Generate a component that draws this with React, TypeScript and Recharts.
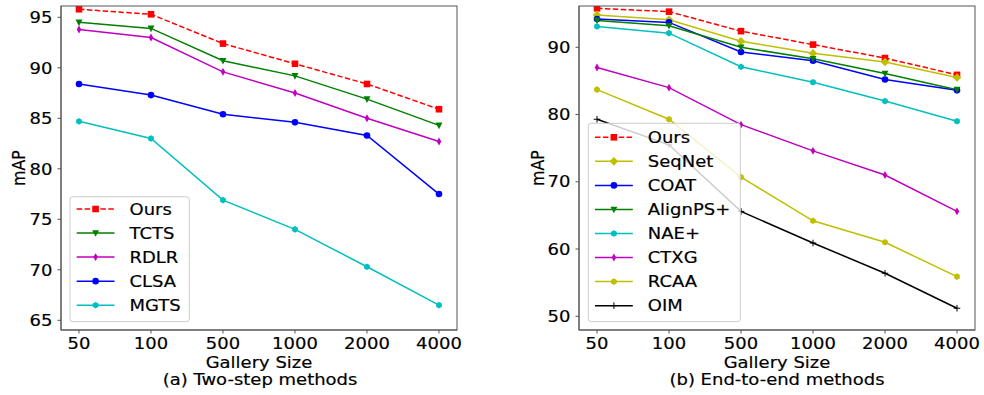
import React from 'react';
import { LineChart, Line, XAxis, YAxis } from 'recharts';

// ---------- data ----------
const gallerySizes = ['50', '100', '500', '1000', '2000', '4000'];

// (a) Two-step methods
const oursA = [95.8, 95.3, 92.4, 90.4, 88.4, 85.9];
const tctsA = [94.5, 93.9, 90.7, 89.2, 86.9, 84.3];
const rdlrA = [93.8, 93.0, 89.6, 87.5, 85.0, 82.7];
const clsaA = [88.4, 87.3, 85.4, 84.6, 83.3, 77.5];
const mgtsA = [84.7, 83.0, 76.9, 74.0, 70.3, 66.5];

// (b) End-to-end methods
const oursB = [95.8, 95.3, 92.4, 90.4, 88.4, 85.9];
const seqnetB = [94.8, 94.1, 90.9, 89.1, 87.8, 85.5];
const coatB = [94.2, 93.7, 89.3, 88.0, 85.2, 83.6];
const alignpsB = [94.0, 93.2, 90.0, 88.3, 86.1, 83.7];
const naeB = [93.1, 92.1, 87.1, 84.8, 82.0, 79.0];
const ctxgB = [87.0, 84.0, 78.5, 74.6, 71.0, 65.6];
const rcaaB = [83.7, 79.3, 70.7, 64.2, 61.0, 55.9];
const oimB = [79.3, 75.5, 65.6, 60.9, 56.4, 51.2];

const yTicksA = [65, 70, 75, 80, 85, 90, 95];
const yTicksB = [50, 60, 70, 80, 90];
const yDomainA: [number, number] = [64.04, 96.12];
const yDomainB: [number, number] = [47.96, 96.14];

// ---------- styles / layout ----------
const FONT = '"DejaVu Sans", "Liberation Sans", sans-serif';
const VS = 0.88; // vertical squeeze of text in the reference
const AXIS = '#555';
const RED = '#ff0000';
const GREEN = '#008000';
const MAGENTA = '#bf00bf';
const BLUE = '#0000ff';
const CYAN = '#00bfbf';
const YELLOW = '#bfbf00';
const BLACK = '#000000';

const H = 395;
const MARGIN_TOP = 6;
const X_AXIS_H = 65;
const PANEL_A = { left: 0, width: 490, yAxisWidth: 61, rightMargin: 33 };
const PANEL_B = { left: 490, width: 494, yAxisWidth: 89, rightMargin: 9 };

type Series = { key: string; name: string; values: number[]; color: string; shape: string; dash?: boolean };

const seriesA: Series[] = [
  { key: 'ours', name: 'Ours', values: oursA, color: RED, shape: 'square', dash: true },
  { key: 'tcts', name: 'TCTS', values: tctsA, color: GREEN, shape: 'tri' },
  { key: 'rdlr', name: 'RDLR', values: rdlrA, color: MAGENTA, shape: 'thin' },
  { key: 'clsa', name: 'CLSA', values: clsaA, color: BLUE, shape: 'circle' },
  { key: 'mgts', name: 'MGTS', values: mgtsA, color: CYAN, shape: 'hex' },
];

const seriesB: Series[] = [
  { key: 'ours', name: 'Ours', values: oursB, color: RED, shape: 'square', dash: true },
  { key: 'seqnet', name: 'SeqNet', values: seqnetB, color: YELLOW, shape: 'diamond' },
  { key: 'coat', name: 'COAT', values: coatB, color: BLUE, shape: 'circle' },
  { key: 'alignps', name: 'AlignPS+', values: alignpsB, color: GREEN, shape: 'tri' },
  { key: 'nae', name: 'NAE+', values: naeB, color: CYAN, shape: 'hex' },
  { key: 'ctxg', name: 'CTXG', values: ctxgB, color: MAGENTA, shape: 'thin' },
  { key: 'rcaa', name: 'RCAA', values: rcaaB, color: YELLOW, shape: 'hex' },
  { key: 'oim', name: 'OIM', values: oimB, color: BLACK, shape: 'plus' },
];

const buildRows = (series: Series[]) =>
  gallerySizes.map((size, i) => {
    const row: Record<string, any> = { size };
    series.forEach((s) => (row[s.key] = s.values[i]));
    return row;
  });

const dataA = buildRows(seriesA);
const dataB = buildRows(seriesB);

// ---------- helpers ----------
function SText({ x, y, anchor = 'middle', rotate = false, children }: any) {
  const t = rotate
    ? `translate(${x},${y}) rotate(-90) scale(${VS},1)`
    : `translate(${x},${y}) scale(1,${VS})`;
  return (
    <text
      transform={t}
      x={0}
      y={0}
      textAnchor={anchor}
      fontFamily={FONT}
      fontSize={18}
      fill="#000"
      stroke="#000"
      strokeWidth={0.2}
    >
      {children}
    </text>
  );
}

function Marker({ shape, color, cx, cy }: any) {
  const s = 6.6;
  const h = s / 2;
  if (cx == null || cy == null) return null;
  switch (shape) {
    case 'square':
      return <rect x={cx - h} y={cy - h} width={s} height={s} fill={color} />;
    case 'tri':
      return (
        <polygon
          points={`${cx - h * 1.05},${cy - h * 0.85} ${cx + h * 1.05},${cy - h * 0.85} ${cx},${cy + h * 1.15}`}
          fill={color}
        />
      );
    case 'thin':
      return (
        <polygon
          points={`${cx},${cy - h * 1.2} ${cx + h * 0.7},${cy} ${cx},${cy + h * 1.2} ${cx - h * 0.7},${cy}`}
          fill={color}
        />
      );
    case 'diamond':
      return (
        <polygon
          points={`${cx},${cy - h * 1.3} ${cx + h * 1.3},${cy} ${cx},${cy + h * 1.3} ${cx - h * 1.3},${cy}`}
          fill={color}
        />
      );
    case 'hex': {
      const pts = [0, 1, 2, 3, 4, 5]
        .map((i) => {
          const a = ((-90 + 60 * i) * Math.PI) / 180;
          return `${cx + h * Math.cos(a)},${cy + h * Math.sin(a)}`;
        })
        .join(' ');
      return <polygon points={pts} fill={color} />;
    }
    case 'plus':
      return (
        <g stroke={color} strokeWidth={1}>
          <line x1={cx - h} y1={cy} x2={cx + h} y2={cy} />
          <line x1={cx} y1={cy - h} x2={cx} y2={cy + h} />
        </g>
      );
    default:
      return <circle cx={cx} cy={cy} r={h} fill={color} />;
  }
}

const XTick = ({ x, y, payload }: any) => (
  <SText x={x} y={y + 12.8}>
    {payload.value}
  </SText>
);

const YTick = ({ x, y, payload }: any) => (
  <SText x={x} y={y + 5.7} anchor="end">
    {payload.value}
  </SText>
);

function renderSeries(series: Series[]) {
  return series.map((s) => (
    <Line
      key={s.key}
      dataKey={s.key}
      name={s.name}
      type="linear"
      stroke={s.color}
      strokeWidth={1.5}
      strokeDasharray={s.dash ? '5.5 2.4' : undefined}
      isAnimationActive={false}
      activeDot={false}
      dot={(p: any) => <Marker key={`${s.key}-${p.index}`} shape={s.shape} color={s.color} cx={p.cx} cy={p.cy} />}
    />
  ));
}

function Panel({ data, series, yDomain, yTicks, panel }: any) {
  return (
    <LineChart
      width={panel.width}
      height={H}
      data={data}
      margin={{ top: MARGIN_TOP, right: panel.rightMargin, bottom: 0, left: 0 }}
    >
      <XAxis
        dataKey="size"
        type="category"
        height={X_AXIS_H}
        padding={{ left: 18, right: 18 }}
        tick={<XTick />}
        tickSize={3.5}
        tickMargin={3}
        interval={0}
        axisLine={{ stroke: AXIS, strokeWidth: 1 }}
        tickLine={{ stroke: AXIS, strokeWidth: 1 }}
      />
      <YAxis
        type="number"
        width={panel.yAxisWidth}
        domain={yDomain}
        ticks={yTicks}
        allowDataOverflow
        interval={0}
        tick={<YTick />}
        tickSize={3.5}
        tickMargin={5}
        axisLine={{ stroke: AXIS, strokeWidth: 1 }}
        tickLine={{ stroke: AXIS, strokeWidth: 1 }}
      />
      {renderSeries(series)}
    </LineChart>
  );
}

// plot frame (matplotlib draws all four spines)
function Frame({ panel }: any) {
  const x = panel.left + panel.yAxisWidth;
  const w = panel.width - panel.yAxisWidth - panel.rightMargin;
  const hgt = H - MARGIN_TOP - X_AXIS_H;
  return <rect x={x} y={MARGIN_TOP} width={w} height={hgt} fill="none" stroke={AXIS} strokeWidth={1} />;
}

function LegendBox({ series, x, y, w, h, firstRow }: any) {
  const step = 24.05;
  return (
    <g>
      <rect x={x} y={y} width={w} height={h} rx={3} ry={3} fill="#ffffff" fillOpacity={0.8} stroke="#cccccc" strokeWidth={1} />
      {series.map((s: Series, i: number) => {
        const cy = y + firstRow + i * step;
        const x1 = x + 6.7;
        const x2 = x + 44.5;
        return (
          <g key={s.key}>
            <line
              x1={x1}
              y1={cy}
              x2={x2}
              y2={cy}
              stroke={s.color}
              strokeWidth={1.5}
              strokeDasharray={s.dash ? '5.5 2.4' : undefined}
            />
            <Marker shape={s.shape} color={s.color} cx={(x1 + x2) / 2} cy={cy} />
            <SText x={x + 59.5} y={cy + 5.7} anchor="start">
              {s.name}
            </SText>
          </g>
        );
      })}
    </g>
  );
}

export default function App() {
  return (
    <div style={{ position: 'absolute', left: 0, top: 0, width: 984, height: H, background: '#fff' }}>
      <div style={{ position: 'absolute', left: PANEL_A.left, top: 0 }}>
        <Panel data={dataA} series={seriesA} yDomain={yDomainA} yTicks={yTicksA} panel={PANEL_A} />
      </div>
      <div style={{ position: 'absolute', left: PANEL_B.left, top: 0 }}>
        <Panel data={dataB} series={seriesB} yDomain={yDomainB} yTicks={yTicksB} panel={PANEL_B} />
      </div>
      <svg width={984} height={H} style={{ position: 'absolute', left: 0, top: 0, pointerEvents: 'none' }}>
        <Frame panel={PANEL_A} />
        <Frame panel={PANEL_B} />
        <SText x={25} y={168} rotate>mAP</SText>
        <SText x={543.5} y={168} rotate>mAP</SText>
        <SText x={259} y={368}>Gallery Size</SText>
        <SText x={777} y={368}>Gallery Size</SText>
        <SText x={260} y={384.8}>(a) Two-step methods</SText>
        <SText x={777} y={384.8}>(b) End-to-end methods</SText>
        <LegendBox series={seriesA} x={70} y={196.7} w={119.3} h={125} firstRow={12.3} />
        <LegendBox series={seriesB} x={588.3} y={123.3} w={152} h={198.4} firstRow={14} />
      </svg>
    </div>
  );
}
